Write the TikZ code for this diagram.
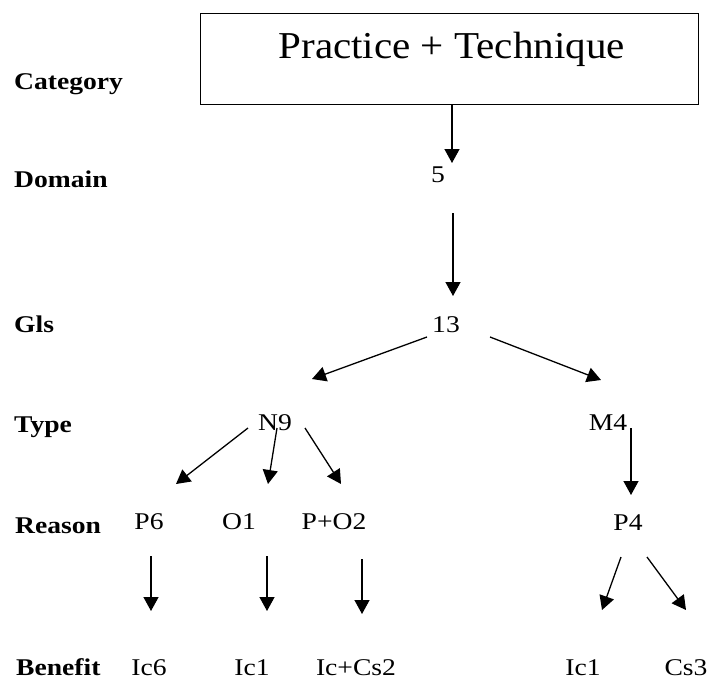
\documentclass[tikz,border=0pt]{standalone}
\usepackage{fontspec}
\setmainfont{Liberation Serif}
\newfontfamily\titlefont[FakeStretch=1.08]{Liberation Serif}
\newfontfamily\lblfont[FakeStretch=1.15]{Liberation Serif}
\usetikzlibrary{arrows.meta}
\begin{document}
\begin{tikzpicture}[x=1pt,y=-1pt,
  rowlabel/.style={anchor=base west,inner sep=0pt,font=\fontsize{24}{28}\lblfont\bfseries},
  val/.style={anchor=base,inner sep=0pt,font=\fontsize{24}{28}\lblfont},
  arr/.style={line width=1.3pt,-{Triangle[length=14pt,width=15pt]}},
  titlebox/.style={draw,line width=1.3pt,anchor=north west,inner sep=0pt,
    minimum width=498pt,text height=45pt,text depth=46pt,
    font=\fontsize{38}{44}\titlefont}]
\useasboundingbox (0,0) rectangle (710,680);
\fill[white] (0,0) rectangle (710,680);

% category box
\node[titlebox] (box) at (200,13) {\hspace*{4pt}Practice + Technique};

% row labels
\node[rowlabel] (lcat) at (14,89) {Category};
\node[rowlabel] (ldom) at (14,187) {Domain};
\node[rowlabel] (lgls) at (14,332) {Gls};
\node[rowlabel] (ltype) at (14,432) {Type};
\node[rowlabel] (lreason) at (15,533) {Reason};
\node[rowlabel] (lbenefit) at (16,675) {Benefit};

% tree values
\node[val] (n5) at (438,182) {5};
\node[val] (n13) at (446,332) {13};
\node[val] (n9) at (275,430) {N9};
\node[val] (m4) at (608,430) {M4};
\node[val] (p6) at (149,529) {P6};
\node[val] (o1) at (239,529) {O1};
\node[val] (po2) at (334,529) {P+O2};
\node[val] (p4) at (628,530) {P4};
\node[val] (ic6) at (149,675) {Ic6};
\node[val] (ic1a) at (252,675) {Ic1};
\node[val] (iccs) at (356,675) {Ic+Cs2};
\node[val] (ic1b) at (583,675) {Ic1};
\node[val] (cs3) at (686,675) {Cs3};

% connectors
\coordinate (t5) at ([shift={(14,-19)}]n5.base);
\draw[arr] (t5 |- box.south) -- (t5);
\draw[arr] ([shift={(15,31)}]n5.base) -- ([shift={(7,-36)}]n13.base);
\draw[arr] ([shift={(-19,5)}]n13.base) -- ([shift={(37,-51)}]n9.base);
\draw[arr] ([shift={(44,5)}]n13.base) -- ([shift={(-7,-50)}]m4.base);
\draw[arr] ([shift={(-27,-2)}]n9.base) -- ([shift={(27,-45)}]p6.base);
\draw[arr] ([shift={(2,-2)}]n9.base) -- ([shift={(29,-45)}]o1.base);
\draw[arr] ([shift={(30,-2)}]n9.base) -- ([shift={(7,-45)}]po2.base);
\draw[arr] ([shift={(23,-2)}]m4.base) -- ([shift={(3,-35)}]p4.base);
\draw[arr] ([shift={(2,27)}]p6.base) -- ([shift={(2,-64)}]ic6.base);
\draw[arr] ([shift={(28,27)}]o1.base) -- ([shift={(15,-64)}]ic1a.base);
\draw[arr] ([shift={(28,30)}]po2.base) -- ([shift={(6,-61)}]iccs.base);
\draw[arr] ([shift={(-7,27)}]p4.base) -- ([shift={(19,-65)}]ic1b.base);
\draw[arr] ([shift={(19,27)}]p4.base) -- ([shift={(0,-65)}]cs3.base);
\end{tikzpicture}
\end{document}
